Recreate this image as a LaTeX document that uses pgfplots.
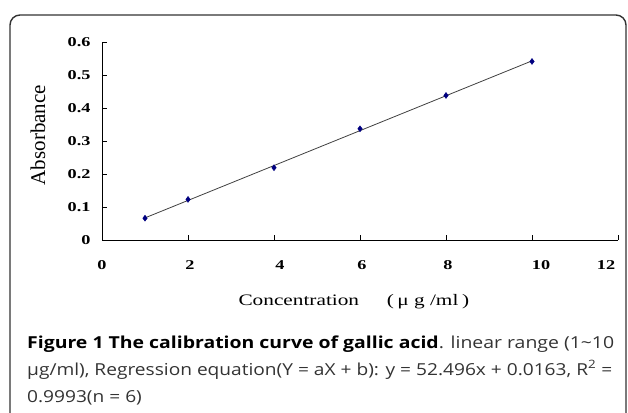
\documentclass[border=0pt]{standalone}
\usepackage{fontspec}
\setmainfont{Liberation Serif}
\newfontfamily\capfont{Open Sans}
\usepackage{graphicx}
\usepackage{pgfplots}
\usepackage{pgfplotstable}
\pgfplotsset{compat=1.18}
\definecolor{navy}{HTML}{000080}
\pgfplotstableread{
x y
1 0.066
2 0.123
4 0.219
6 0.337
8 0.438
10 0.541
}\datatable
\newsavebox\lineB
\newcommand\tl[1]{\scalebox{1.35}[1]{#1}}
\begin{document}
\sbox\lineB{\capfont\fontsize{16.5}{16.5}\selectfont µg/ml), Regression equation(Y = aX + b): y = 52.496x + 0.0163, R\textsuperscript{2} =}%
\pgfmathsetmacro\capscale{585/\wd\lineB}%
\begin{tikzpicture}[x=1pt,y=1pt]
\path[use as bounding box] (0,0) rectangle (628,-412);
\draw[line width=1.4pt, black!80, rounded corners=10pt] (10,-15) rectangle (626,-450);
\begin{axis}[
  at={(102pt,-240pt)}, anchor=south west,
  scale only axis, width=516pt, height=198pt,
  xmin=0, xmax=12, ymin=0, ymax=0.6,
  axis lines=left, axis line style={-, black, line width=1pt},
  xtick={0,2,4,6,8,10,12},
  xticklabels={\tl{0},{\hspace*{4pt}\tl{2}},{\hspace*{12pt}\tl{4}},{\hspace*{4pt}\tl{6}},{\hspace*{4pt}\tl{8}},{\hspace*{18pt}\tl{10}},{\tl{12}\hspace*{24pt}}},
  ytick={0,0.1,0.2,0.3,0.4,0.5,0.6},
  tick align=inside, major tick length=5pt,
  tick style={black, line width=0.8pt},
  /pgf/number format/assume math mode=true,
  yticklabel={\scalebox{1.35}[1]{\pgfmathprintnumber[fixed,precision=1]{\tick}}},
  ticklabel style={font=\bfseries\fontsize{13.5}{13.5}\selectfont},
  xticklabel style={yshift=-17pt},
  yticklabel style={xshift=-8pt},
  xlabel={\scalebox{1.33}[1]{Concentration\hspace{1.3em}(\,μ g /ml\,)}},
  xlabel style={at={(rel axis cs:0.488,0)}, anchor=base, yshift=-65pt, font=\fontsize{16}{16}\selectfont},
  ylabel={Absorbance},
  ylabel style={at={(axis description cs:-0.124,0.53)}, anchor=center, font=\fontsize{21}{21}\selectfont},
]
\addplot[no marks, black!75, line width=0.8pt] table[x=x, y={create col/linear regression={y=y}}] {\datatable};
\addplot[only marks, mark=diamond*, mark size=3pt, color=navy] table[x=x, y=y] {\datatable};
\end{axis}
\begin{scope}[every node/.style={anchor=base west, inner sep=0pt, font=\capfont\fontsize{16.5}{16.5}\selectfont}]
\node at (27,-348) {\resizebox{587pt}{\height}{\textbf{Figure 1 The calibration curve of gallic acid}\textcolor{black!80}{. linear range (1\textasciitilde 10}}};
\node[text=black!80] at (27,-375) {\scalebox{\capscale}[1]{µg/ml), Regression equation(Y = aX + b): y = 52.496x + 0.0163, R\textsuperscript{2} =}};
\node[text=black!80] at (27,-402) {\scalebox{\capscale}[1]{0.9993(n = 6)}};
\end{scope}
\end{tikzpicture}
\end{document}
